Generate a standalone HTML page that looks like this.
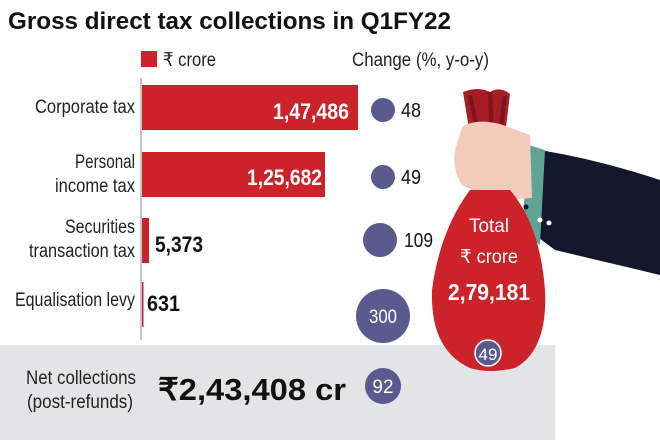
<!DOCTYPE html>
<html><head><meta charset="utf-8"><style>
html,body{margin:0;padding:0;background:#fff;}
svg{display:block;font-family:"Liberation Sans",sans-serif;}
</style></head><body>
<svg width="660" height="440" viewBox="0 0 660 440" xmlns="http://www.w3.org/2000/svg">
<rect width="660" height="440" fill="#fff"/>
<rect x="0" y="345" width="555" height="95" fill="#e3e4e6"/>
<text x="8" y="29" font-size="24" font-weight="bold" fill="#111" textLength="443" lengthAdjust="spacingAndGlyphs">Gross direct tax collections in Q1FY22</text>
<rect x="141" y="51" width="16" height="16" fill="#cc2229"/>
<text x="163" y="66" font-size="19" fill="#222" textLength="53" lengthAdjust="spacingAndGlyphs">₹ crore</text>
<text x="352" y="66" font-size="19" fill="#222" textLength="137" lengthAdjust="spacingAndGlyphs">Change (%, y-o-y)</text>
<line x1="141" y1="78" x2="141" y2="340" stroke="#888" stroke-width="1"/>
<g font-size="19" fill="#222">
<text x="35" y="113" textLength="100" lengthAdjust="spacingAndGlyphs">Corporate tax</text>
<text x="75" y="168" textLength="60" lengthAdjust="spacingAndGlyphs">Personal</text>
<text x="55" y="192" textLength="80" lengthAdjust="spacingAndGlyphs">income tax</text>
<text x="65" y="233" textLength="70" lengthAdjust="spacingAndGlyphs">Securities</text>
<text x="29" y="257" textLength="106" lengthAdjust="spacingAndGlyphs">transaction tax</text>
<text x="15" y="306" textLength="120" lengthAdjust="spacingAndGlyphs">Equalisation levy</text>
</g>
<rect x="142" y="85" width="216" height="45" fill="#cc2229"/>
<rect x="142" y="152" width="183" height="45" fill="#cc2229"/>
<rect x="142" y="218" width="7" height="45" fill="#cc2229"/>
<rect x="142" y="282" width="1.5" height="45" fill="#cc2229"/>
<g font-size="22" font-weight="bold">
<text x="273" y="119" fill="#fff" textLength="76" lengthAdjust="spacingAndGlyphs">1,47,486</text>
<text x="247" y="185" fill="#fff" textLength="75" lengthAdjust="spacingAndGlyphs">1,25,682</text>
<text x="155" y="252" fill="#111" textLength="48" lengthAdjust="spacingAndGlyphs">5,373</text>
<text x="147" y="311" fill="#111" textLength="33" lengthAdjust="spacingAndGlyphs">631</text>
</g>
<g fill="#5a5a8e">
<circle cx="383" cy="110" r="12"/>
<circle cx="383" cy="177" r="12"/>
<circle cx="380" cy="240" r="17"/>
<circle cx="383" cy="316" r="27"/>
<circle cx="383" cy="386" r="18"/>
</g>
<g font-size="20" fill="#111">
<text x="401" y="117" textLength="20" lengthAdjust="spacingAndGlyphs">48</text>
<text x="401" y="184" textLength="20" lengthAdjust="spacingAndGlyphs">49</text>
<text x="404" y="247" textLength="29" lengthAdjust="spacingAndGlyphs">109</text>
</g>
<text x="369" y="323" font-size="19" fill="#fff" textLength="28" lengthAdjust="spacingAndGlyphs">300</text>
<text x="383" y="393" font-size="19" fill="#fff" text-anchor="middle">92</text>
<text x="26" y="384" font-size="19" fill="#222" textLength="110" lengthAdjust="spacingAndGlyphs">Net collections</text>
<text x="27" y="408" font-size="19" fill="#222" textLength="106" lengthAdjust="spacingAndGlyphs">(post-refunds)</text>
<text x="158" y="400" font-size="31" font-weight="bold" fill="#111" textLength="188" lengthAdjust="spacingAndGlyphs">₹2,43,408 cr</text>
<!-- arm -->
<path d="M540 150 Q600 160 660 180 L660 275 L555 250 L535 235 Z" fill="#12172e"/>
<path d="M528 145 L545 150 L540 245 L522 232 Z" fill="#5fa394"/>
<circle cx="526" cy="207" r="2.5" fill="#12172e"/>
<circle cx="540" cy="220" r="2.5" fill="#fff"/>
<circle cx="549" cy="223" r="2.5" fill="#fff"/>
<!-- bag top -->
<path d="M463 92 Q478 86 490 92 Q500 86 510 94 L505 135 L470 135 Z" fill="#a51e25"/>
<path d="M470 95 L478 134 M490 92 L492 134 M505 96 L500 134" stroke="#7e141a" stroke-width="4"/>
<!-- hand -->
<path d="M462 127 Q475 118 500 124 L530 135 L532 198 L505 200 Q480 195 462 185 Q452 170 455 150 Z" fill="#f2cbbd"/>
<!-- bag body -->
<path d="M470 190 Q440 230 432 290 Q430 350 470 368 Q490 374 515 368 Q548 350 545 290 Q540 225 510 190 Z" fill="#cc2229"/>
<text x="489" y="232" font-size="19" fill="#fff" text-anchor="middle" textLength="40" lengthAdjust="spacingAndGlyphs">Total</text>
<text x="489" y="263" font-size="19" fill="#fff" text-anchor="middle" textLength="58" lengthAdjust="spacingAndGlyphs">₹ crore</text>
<text x="489" y="300" font-size="23" font-weight="bold" fill="#fff" text-anchor="middle" textLength="82" lengthAdjust="spacingAndGlyphs">2,79,181</text>
<circle cx="488" cy="353" r="13" fill="#5a5a8e" stroke="#fff" stroke-width="1.5"/>
<text x="488" y="360" font-size="17" fill="#fff" text-anchor="middle">49</text>
</svg>
</body></html>
